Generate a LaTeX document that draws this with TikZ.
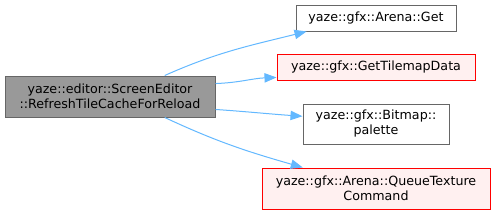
\documentclass[tikz,border=0pt]{standalone}
\usepackage{fontspec}
\setmainfont{DejaVu Sans}
\usetikzlibrary{arrows.meta}
\definecolor{edgeblue}{HTML}{63B8FF}
\definecolor{boxline}{HTML}{666666}
\definecolor{boxgray}{HTML}{999999}
\definecolor{redfill}{HTML}{FFF0F0}
\definecolor{redline}{HTML}{FF0000}
\begin{document}
\begin{tikzpicture}[x=0.75pt,y=-0.75pt,
    box/.style={draw=boxline, fill=white, line width=0.75pt, align=center, inner sep=0pt,
      font=\fontsize{9.5}{11.25}\selectfont},
    mainbox/.style={box, fill=boxgray},
    redbox/.style={box, draw=redline, fill=redfill},
    arrow/.style={-{Triangle[length=9pt,width=7pt]}, line width=0.75pt, color=edgeblue}
  ]
  \useasboundingbox (0,0) rectangle (495,214);
  \node[mainbox, minimum width=157.5pt, minimum height=30.75pt] (refresh) at (110,96.5) {yaze::editor::ScreenEditor\\::RefreshTileCacheForReload};
  \node[box, minimum width=120pt, minimum height=19.5pt] (get) at (376,18) {yaze::gfx::Arena::Get};
  \node[redbox, minimum width=148.5pt, minimum height=19.5pt] (tilemap) at (376,67) {yaze::gfx::GetTilemapData};
  \node[box, minimum width=109.5pt, minimum height=30pt] (palette) at (376,124) {yaze::gfx::Bitmap::\\palette};
  \node[redbox, minimum width=171pt, minimum height=30.75pt] (queue) at (376,188.5) {yaze::gfx::Arena::QueueTexture\\Command};
  \draw[arrow] (refresh.21.5) to[out=24,in=194] (get.191);
  \draw[arrow] (refresh.7.9) to[out=2,in=182] (tilemap.186);
  \draw[arrow] (refresh.-7.3) to[out=-4,in=176] (palette.174);
  \draw[arrow] (refresh.-21.5) to[out=-25,in=164] (queue.164.5);
\end{tikzpicture}
\end{document}
